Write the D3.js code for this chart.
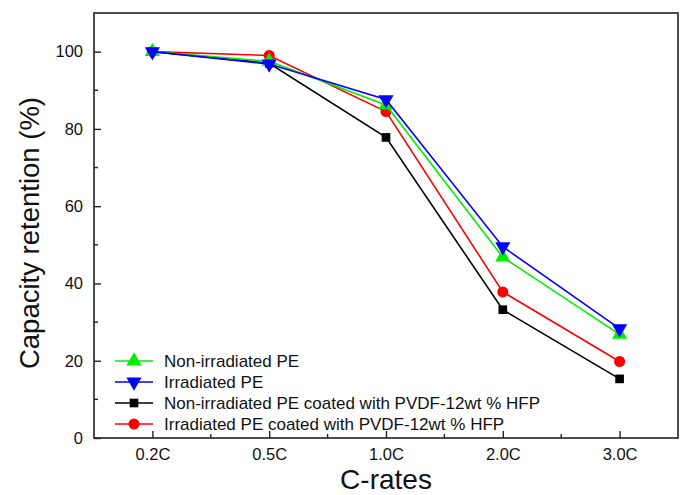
<!DOCTYPE html>
<html>
<head>
<meta charset="utf-8">
<script src="https://cdn.jsdelivr.net/npm/d3@7"></script>
<style>
  body { margin: 0; background: #fff; }
  svg { display: block; font-family: "Liberation Sans", Arial, sans-serif; }
</style>
</head>
<body>
<svg id="chart" width="682" height="495"></svg>
<script>
// C-rate categories along the x axis
const rates = ["0.2C", "0.5C", "1.0C", "2.0C", "3.0C"];

// Capacity retention (%) per separator type
const nonIrradiated        = [100, 97.5, 86.2, 46.8, 26.8];
const irradiated          = [100, 96.8, 87.6, 49.5, 28.3];
const nonIrradiatedCoated = [100, 97.0, 77.8, 33.2, 15.3];
const irradiatedCoated    = [100, 99.0, 84.5, 37.8, 19.8];

const yTicks = [0, 20, 40, 60, 80, 100];

const series = [
  { name: "Non-irradiated PE", values: nonIrradiated, color: "#00ee00", symbol: "up" },
  { name: "Irradiated PE", values: irradiated, color: "#0000ff", symbol: "down" },
  { name: "Non-irradiated PE coated with PVDF-12wt % HFP", values: nonIrradiatedCoated, color: "#000000", symbol: "square" },
  { name: "Irradiated PE coated with PVDF-12wt % HFP", values: irradiatedCoated, color: "#ff0000", symbol: "circle" }
];
// draw order: later series on top
const drawOrder = [2, 3, 0, 1];

const svg = d3.select("#chart");
const margin = { left: 94, right: 4, top: 13, bottom: 57 };
const W = 682, H = 495;
const x0 = margin.left, x1 = W - margin.right, y0 = H - margin.bottom, y1 = margin.top;

const x = d3.scaleLinear().domain([-0.5, rates.length - 0.5]).range([x0, x1]);
const y = d3.scaleLinear().domain([0, 110]).range([y0, y1]);

// Frame
svg.append("rect")
  .attr("x", x0).attr("y", y1)
  .attr("width", x1 - x0).attr("height", y0 - y1)
  .attr("fill", "none").attr("stroke", "#222").attr("stroke-width", 1.6);

// X axis (ticks pointing inward)
const xAxis = d3.axisBottom(x)
  .tickValues(d3.range(rates.length))
  .tickFormat(i => rates[i])
  .tickSizeInner(-7).tickSizeOuter(0).tickPadding(10);
const gx = svg.append("g").attr("transform", `translate(0,${y0})`).call(xAxis);
gx.select(".domain").remove();
gx.selectAll(".tick line").attr("stroke", "#222").attr("stroke-width", 1.4);
gx.selectAll(".tick text").attr("font-size", 16.5).attr("fill", "#111")
  .attr("font-family", "Liberation Sans, Arial, sans-serif");
// minor x ticks between categories
svg.append("g").selectAll("line")
  .data(d3.range(rates.length - 1).map(i => i + 0.5))
  .join("line")
  .attr("x1", d => x(d)).attr("x2", d => x(d))
  .attr("y1", y0).attr("y2", y0 - 4)
  .attr("stroke", "#222").attr("stroke-width", 1.4);

// Y axis (ticks pointing inward)
const yAxis = d3.axisLeft(y).tickValues(yTicks).tickSizeInner(-7).tickSizeOuter(0).tickPadding(11);
const gy = svg.append("g").attr("transform", `translate(${x0},0)`).call(yAxis);
gy.select(".domain").remove();
gy.selectAll(".tick line").attr("stroke", "#222").attr("stroke-width", 1.4);
gy.selectAll(".tick text").attr("font-size", 16.5).attr("fill", "#111")
  .attr("font-family", "Liberation Sans, Arial, sans-serif");
// minor y ticks
svg.append("g").selectAll("line")
  .data([10, 30, 50, 70, 90])
  .join("line")
  .attr("x1", x0).attr("x2", x0 + 4)
  .attr("y1", d => y(d)).attr("y2", d => y(d))
  .attr("stroke", "#222").attr("stroke-width", 1.4);

// Axis titles
svg.append("text")
  .attr("x", 386).attr("y", 489)
  .attr("text-anchor", "middle").attr("font-size", 28).attr("fill", "#111")
  .text("C-rates");
svg.append("text")
  .attr("transform", `translate(39,233) rotate(-90)`)
  .attr("text-anchor", "middle").attr("font-size", 27.5).attr("fill", "#111")
  .text("Capacity retention (%)");

// Marker shapes
const symbolFor = {
  up: d3.symbol().type(d3.symbolTriangle).size(100),
  down: d3.symbol().type(d3.symbolTriangle).size(100),
  square: d3.symbol().type(d3.symbolSquare).size(75),
  circle: d3.symbol().type(d3.symbolCircle).size(95)
};
function drawMarker(g, s, cx, cy) {
  const p = g.append("path")
    .attr("d", symbolFor[s.symbol]())
    .attr("fill", s.color);
  if (s.symbol === "down") p.attr("transform", `translate(${cx},${cy}) rotate(180)`);
  else p.attr("transform", `translate(${cx},${cy})`);
}

const line = d3.line().x((d, i) => x(i)).y(d => y(d));

drawOrder.forEach(k => {
  const s = series[k];
  const g = svg.append("g");
  g.append("path").datum(s.values)
    .attr("d", line)
    .attr("fill", "none").attr("stroke", s.color).attr("stroke-width", 1.6);
  s.values.forEach((v, i) => drawMarker(g, s, x(i), y(v)));
});

// Legend
const legend = svg.append("g");
const legY0 = 361, legDy = 21;
series.forEach((s, k) => {
  const ly = legY0 + k * legDy;
  const g = legend.append("g");
  g.append("line").attr("x1", 115).attr("x2", 153).attr("y1", ly).attr("y2", ly)
    .attr("stroke", s.color).attr("stroke-width", 1.6);
  drawMarker(g, s, 134, ly);
  g.append("text").attr("x", 164).attr("y", ly + 6)
    .attr("font-size", 17).attr("fill", "#111").text(s.name);
});
</script>
</body>
</html>
